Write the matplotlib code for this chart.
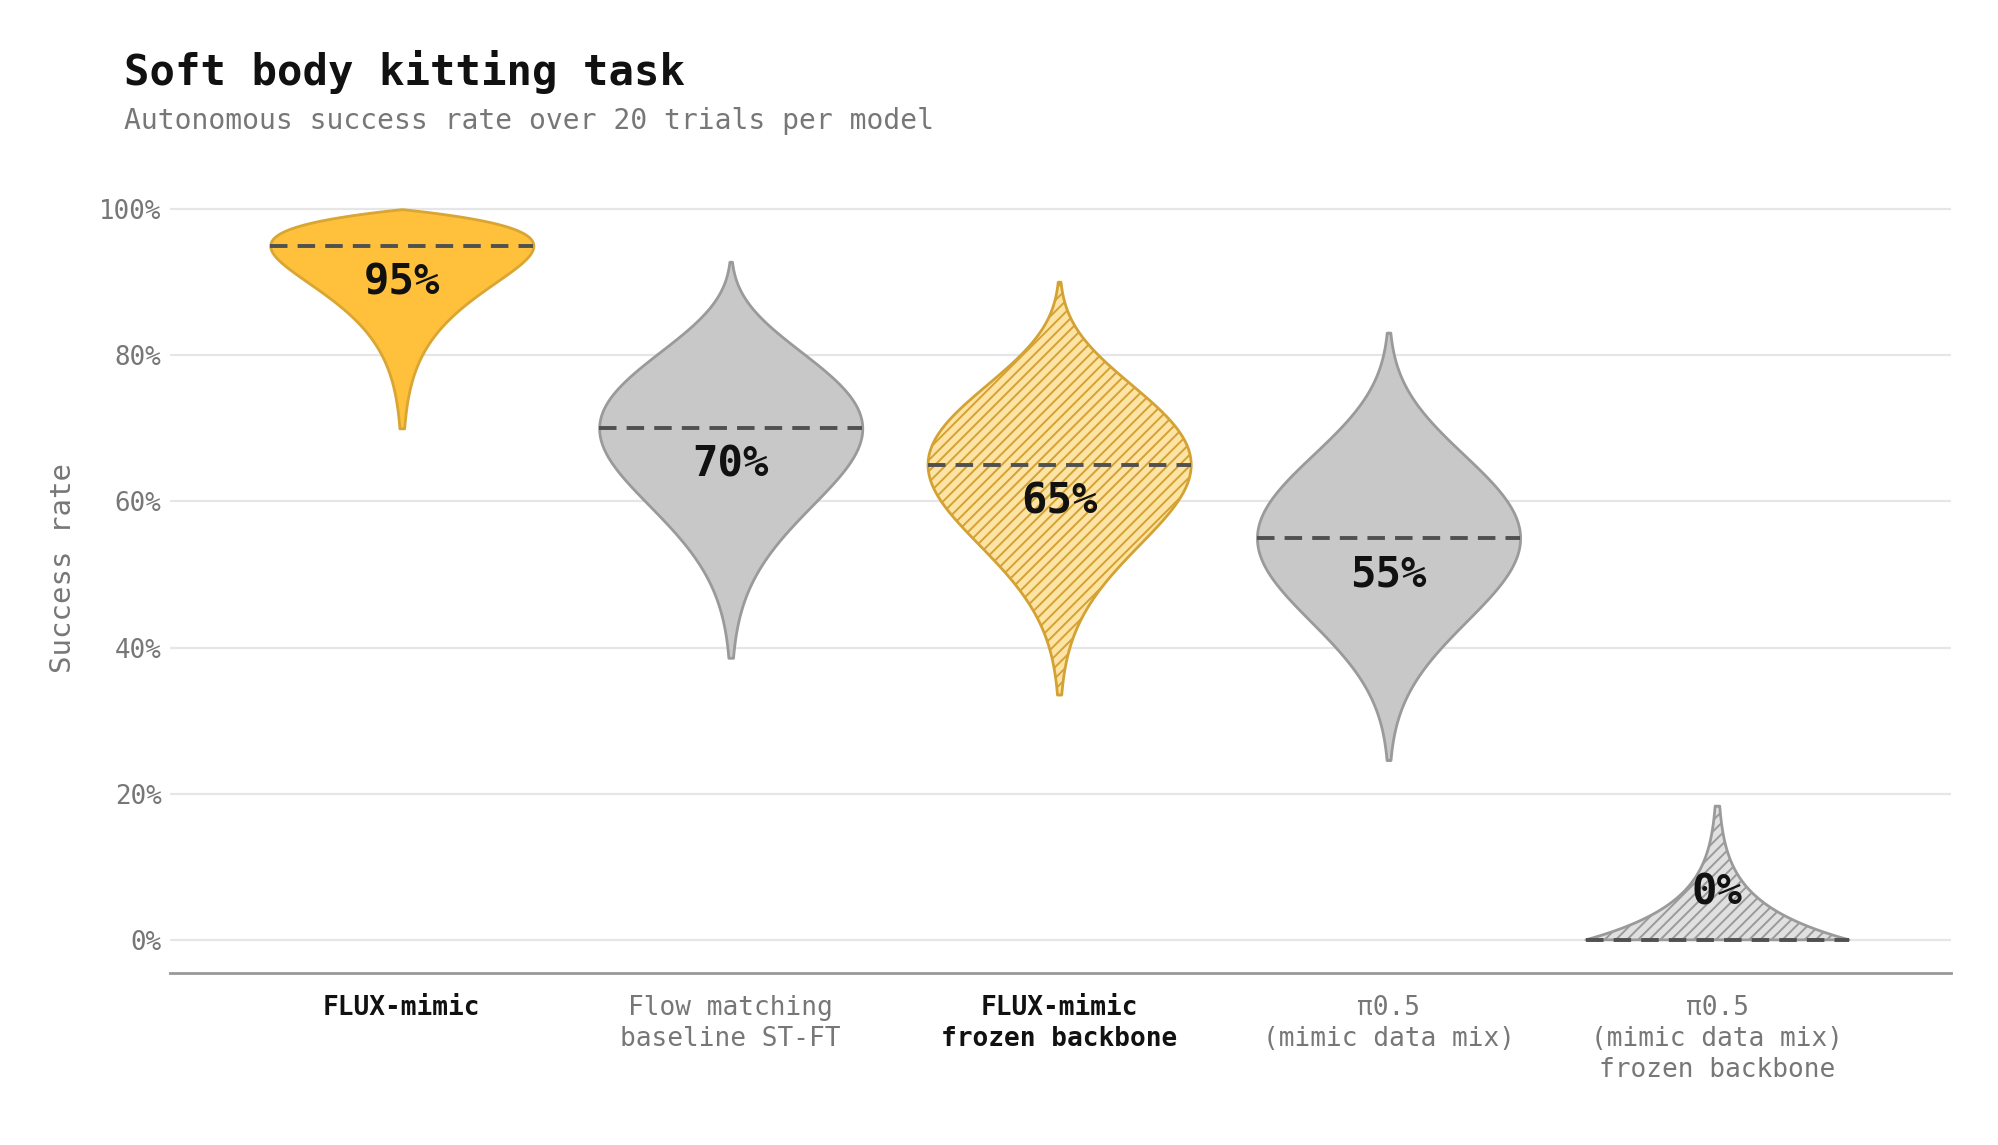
import numpy as np
import matplotlib
matplotlib.use("Agg")
import matplotlib.pyplot as plt
from matplotlib.ticker import PercentFormatter

# models and results (20 trials each)
models = ["FLUX-mimic", "Flow matching\nbaseline ST-FT", "FLUX-mimic\nfrozen backbone",
          "π0.5\n(mimic data mix)", "π0.5\n(mimic data mix)\nfrozen backbone"]
successes = [19, 14, 13, 11, 0]
n_trials = 20
# visible extent of each violin
lower = [0.70, 0.386, 0.335, 0.246, 0.0]
upper = [1.00, 0.928, 0.900, 0.831, 0.183]
ours = [True, False, True, False, False]
frozen = [False, False, True, False, True]

plt.rcParams["font.family"] = ["DejaVu Sans Mono", "DejaVu Sans"]
plt.rcParams["hatch.linewidth"] = 0.7

fig = plt.figure(figsize=(9.995, 5.725), dpi=200)
ax = fig.add_axes([0.0850, 0.1502, 0.8908, 0.6863])

for i, k in enumerate(successes):
    # posterior density of the success rate, scaled to a common max width
    a, b = k + 1, n_trials - k + 1
    y = np.linspace(lower[i], upper[i], 400)
    yc = np.clip(y, 1e-6, 1 - 1e-6)
    logp = (a - 1) * np.log(yc) + (b - 1) * np.log(1 - yc)
    dens = np.exp(logp - logp.max())
    half = 0.4 * dens / dens.max()

    if ours[i]:
        face, edge = ("#fde3a4", "#d4a233") if frozen[i] else ("#ffc13b", "#d9a533")
    else:
        face, edge = ("#e0e0e0", "#9a9a9a") if frozen[i] else ("#c8c8c8", "#9a9a9a")
    ax.fill_betweenx(y, i - half, i + half, facecolor=face, edgecolor=edge,
                     linewidth=1.0, hatch="//////" if frozen[i] else None, zorder=2)

    med = k / n_trials
    ax.plot([i - 0.4, i + 0.4], [med, med], color="#505050", lw=1.4,
            linestyle=(0, (4.5, 2.6)), zorder=3)
    ty = med + 0.065 if med < 0.1 else med - 0.05
    ax.text(i, ty, f"{round(med * 100)}%", ha="center", va="center",
            fontsize=15.2, fontweight="bold", color="#111111", zorder=4)

ax.set_xlim(-0.705, 4.709)
ax.set_ylim(-0.0454, 1.03)
ax.set_yticks([0, 0.2, 0.4, 0.6, 0.8, 1.0])
ax.yaxis.set_major_formatter(PercentFormatter(1.0, decimals=0))
ax.grid(axis="y", color="#e6e6e6", linewidth=0.8, zorder=0)
ax.set_axisbelow(True)
for s in ["left", "right", "top"]:
    ax.spines[s].set_visible(False)
ax.spines["bottom"].set_color("#999999")
ax.spines["bottom"].set_linewidth(1.0)
ax.tick_params(axis="y", length=0, pad=3, labelsize=9.3, labelcolor="#777777")
ax.tick_params(axis="x", length=0, pad=8, labelsize=9.4)

ax.set_xticks(range(len(models)))
ax.set_xticklabels(models, linespacing=1.25)
for lab, o in zip(ax.get_xticklabels(), ours):
    lab.set_color("#111111" if o else "#777777")
    lab.set_fontweight("bold" if o else "normal")

ax.set_ylabel("Success rate", fontsize=10.5, color="#777777")
ax.yaxis.set_label_coords(-0.052, 0.515)

fig.text(0.062, 1 - 85 / 1145, "Soft body kitting task", fontsize=15.2,
         fontweight="bold", color="#111111", va="baseline")
fig.text(0.062, 1 - 129 / 1145, "Autonomous success rate over 20 trials per model",
         fontsize=10.1, color="#777777", va="baseline")

fig.savefig("out.png", dpi=200)
